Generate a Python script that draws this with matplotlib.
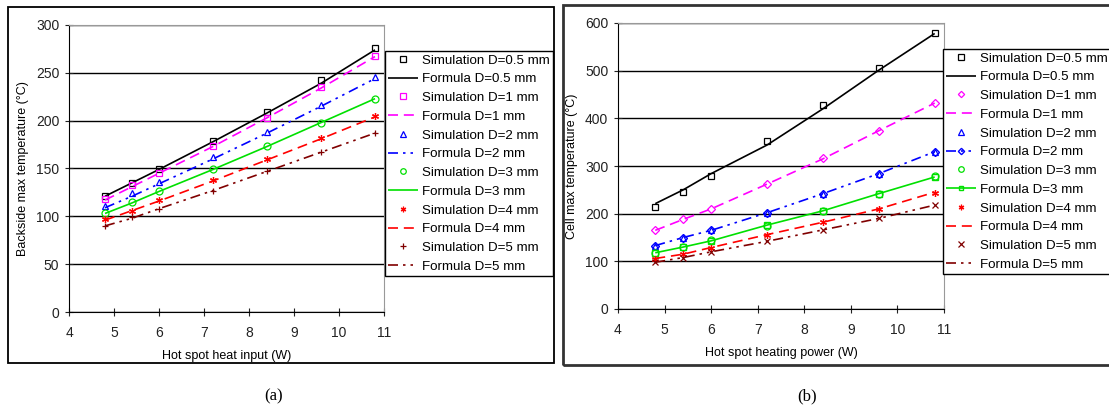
import matplotlib
matplotlib.use("Agg")
import matplotlib.pyplot as plt
from matplotlib.patches import Rectangle

plt.rcParams['font.family'] = ['Liberation Sans', 'DejaVu Sans']

# heat input / heating power (W)
power = [4.8, 5.4, 6.0, 7.2, 8.4, 9.6, 10.8]
diam = ['0.5', '1', '2', '3', '4', '5']

# (a) backside max temperature (°C)
a_sim = {
    '0.5': [121, 135, 149, 179, 209, 242, 276],
    '1':   [118, 133, 145, 174, 203, 235, 268],
    '2':   [111, 124, 136, 162, 188, 216, 246],
    '3':   [104, 115, 127, 149, 173, 198, 223],
    '4':   [97, 106, 117, 138, 160, 182, 205],
    '5':   [90, 99, 108, 127, 147, 167, 187],
}
a_form = {
    '0.5': [121, 135, 149, 178, 208, 239, 274],
    '1':   [117, 131, 145, 173, 203, 234, 267],
    '2':   [109, 121, 134, 160, 187, 215, 244],
    '3':   [103, 114, 126, 149, 173, 198, 223],
    '4':   [96, 106, 116, 137, 159, 181, 204],
    '5':   [90, 98, 108, 127, 147, 167, 187],
}

# (b) cell max temperature (°C)
b_sim = {
    '0.5': [213, 245, 279, 353, 429, 505, 580],
    '1':   [166, 189, 210, 262, 316, 374, 433],
    '2':   [133, 150, 166, 202, 242, 284, 329],
    '3':   [117, 130, 144, 175, 206, 242, 278],
    '4':   [105, 115, 129, 155, 182, 210, 244],
    '5':   [98, 107, 119, 142, 166, 190, 218],
}
b_form = {
    '0.5': [221, 250, 284, 344, 420, 501, 578],
    '1':   [165, 188, 210, 262, 315, 374, 432],
    '2':   [133, 150, 165, 202, 242, 284, 330],
    '3':   [118, 130, 143, 176, 206, 242, 277],
    '4':   [106, 115, 129, 156, 182, 210, 245],
    '5':   [98, 108, 120, 142, 166, 190, 218],
}

colors = {'0.5': 'black', '1': '#ff00ff', '2': '#0000ff', '3': '#00e000', '4': '#ff0000', '5': '#800000'}
styles = {'0.5': (0, ()), '1': (0, (6, 3.5)), '2': (0, (6, 3, 1.5, 3, 1.5, 3)),
          '3': (0, ()), '4': (0, (6, 3.5)), '5': (0, (6, 3, 1.5, 3, 1.5, 3))}
a_mark = {'0.5': 's', '1': 's', '2': '^', '3': 'o', '4': (6, 2, 0), '5': '+'}
b_mark = {'0.5': 's', '1': 'D', '2': '^', '3': 'o', '4': (6, 2, 0), '5': 'x'}
b_form_mark = {'2': 'D', '3': 's'}

W, H = 1109, 408
fig = plt.figure(figsize=(W / 100, H / 100), dpi=100)

# chart frames and captions
fig.add_artist(Rectangle((7.5 / W, 1 - 363 / H), 546 / W, 356 / H, transform=fig.transFigure,
                         fill=False, edgecolor='black', linewidth=1.3))
fig.add_artist(Rectangle((563 / W, 1 - 364.5 / H), 560 / W, 359.5 / H, transform=fig.transFigure,
                         fill=False, edgecolor='#333333', linewidth=2))
fig.text(274 / W, 1 - 396 / H, '(a)', family='Liberation Serif', fontsize=12, ha='center', va='center')
fig.text(807 / W, 1 - 396 / H, '(b)', family='Liberation Serif', fontsize=12, ha='center', va='center')


def setup_axes(ax, ymax, ystep, xlabel, ylabel):
    ax.set_xlim(4, 11)
    ax.set_ylim(0, ymax)
    ax.set_xticks(range(4, 12))
    ax.set_yticks(range(0, ymax + 1, ystep))
    ax.yaxis.grid(True, color='black', linewidth=1)
    ax.set_axisbelow(True)
    for s in ['top', 'right']:
        ax.spines[s].set_color('#999999')
    for s in ['left', 'bottom']:
        ax.spines[s].set_color('black')
    ax.tick_params(direction='inout', length=6, width=0.8, labelsize=10, colors='#222222', pad=4)
    ax.tick_params(axis='x', pad=7)
    ax.set_xlabel(xlabel, fontsize=9, labelpad=7)
    ax.set_ylabel(ylabel, fontsize=9, labelpad=5)


def add_legend(ax, x0, y0):
    leg = ax.legend(loc='upper left', bbox_to_anchor=(x0 / W, 1 - y0 / H), bbox_transform=fig.transFigure,
                    fontsize=9.6, frameon=True, fancybox=False, edgecolor='black', framealpha=1,
                    handlelength=2.25, handletextpad=0.3, labelspacing=0.48, borderpad=0.25,
                    borderaxespad=0, markerscale=0.8)
    leg.get_frame().set_linewidth(1)


axa = fig.add_axes([69 / W, 1 - 312 / H, 315 / W, 287 / H])
for d in diam:
    axa.plot(power, a_sim[d], linestyle='none', marker=a_mark[d], markersize=5,
             markerfacecolor='none', markeredgecolor=colors[d], markeredgewidth=0.9,
             label='Simulation D=%s mm' % d)
    axa.plot(power, a_form[d], linestyle=styles[d], color=colors[d], linewidth=1.2,
             label='Formula D=%s mm' % d)
setup_axes(axa, 300, 50, 'Hot spot heat input (W)', 'Backside max temperature (\u00b0C)')
add_legend(axa, 385, 51)

axb = fig.add_axes([618 / W, 1 - 309 / H, 326 / W, 286 / H])
for d in diam:
    axb.plot(power, b_sim[d], linestyle='none', marker=b_mark[d], markersize=5 if d != '1' else 4,
             markerfacecolor='none', markeredgecolor=colors[d], markeredgewidth=0.9,
             label='Simulation D=%s mm' % d)
    axb.plot(power, b_form[d], linestyle=styles[d], color=colors[d], linewidth=1.2,
             marker=b_form_mark.get(d, 'none'), markersize=4, markerfacecolor='none',
             markeredgecolor=colors[d], label='Formula D=%s mm' % d)
setup_axes(axb, 600, 100, 'Hot spot heating power (W)', 'Cell max temperature (\u00b0C)')
add_legend(axb, 943, 49)

fig.savefig('out.png', dpi=100)
